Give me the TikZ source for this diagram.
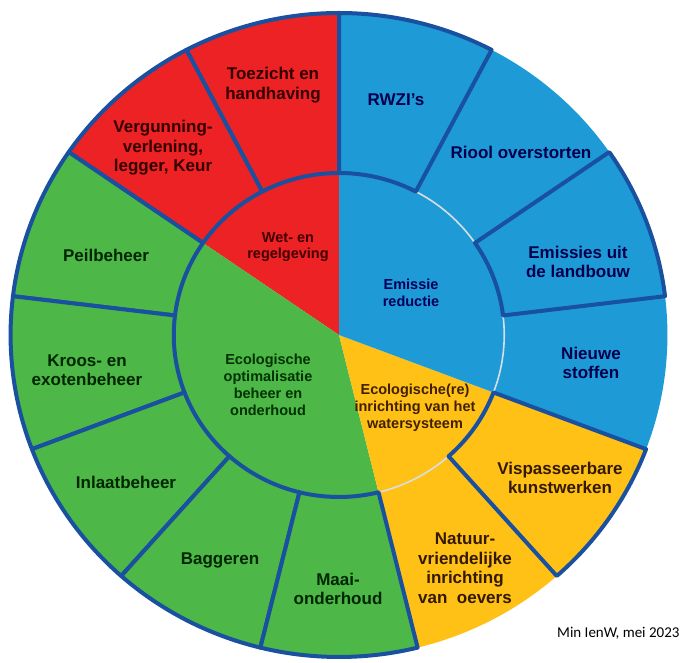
\documentclass[tikz,border=0pt]{standalone}
\usepackage{fontspec}
\setmainfont{Liberation Sans}
\newfontfamily\notefont{Carlito}
\usetikzlibrary{positioning}

\definecolor{wetred}{RGB}{237,34,36}
\definecolor{emisblue}{RGB}{30,155,215}
\definecolor{ecogreen}{RGB}{77,183,72}
\definecolor{inryellow}{RGB}{255,193,22}
\definecolor{rimblue}{RGB}{25,80,160}
\definecolor{seamgrey}{RGB}{215,222,228}

\begin{document}
\begin{tikzpicture}[
    x=1pt, y=1pt,
    seg/.style={draw=rimblue, line width=4pt, line join=round},
    seam/.style={draw=seamgrey, line width=1.6pt},
    outer/.style={align=center, font=\fontsize{17}{19.5}\selectfont\bfseries},
    inner/.style={align=center, font=\fontsize{14.5}{16.8}\selectfont\bfseries},
]

% frame of the picture
\path[fill=white] (0,0) rectangle (686,659);

\begin{scope}[shift={(339,324)}, xscale=1.02]

% inner sectors
\fill[wetred] (0,0) -- (90:162) arc[start angle=90, end angle=145.38, radius=162] -- cycle;
\fill[ecogreen] (0,0) -- (145.38:162) arc[start angle=145.38, end angle=283.85, radius=162] -- cycle;
\fill[inryellow] (0,0) -- (283.85:162) arc[start angle=283.85, end angle=339.23, radius=162] -- cycle;
\fill[emisblue] (0,0) -- (339.23:162) arc[start angle=339.23, end angle=450, radius=162] -- cycle;

% outer segments without a rim
\fill[inryellow] (283.85:162) arc[start angle=283.85, end angle=311.54, radius=162] -- (311.54:322) arc[start angle=311.54, end angle=283.85, radius=322] -- cycle;
\fill[emisblue] (339.23:162) arc[start angle=339.23, end angle=366.92, radius=162] -- (366.92:322) arc[start angle=366.92, end angle=339.23, radius=322] -- cycle;
\fill[emisblue] (394.62:162) arc[start angle=394.62, end angle=422.31, radius=162] -- (422.31:322) arc[start angle=422.31, end angle=394.62, radius=322] -- cycle;
\draw[seam] (283.85:162) arc[start angle=283.85, end angle=311.54, radius=162];
\draw[seam] (339.23:162) arc[start angle=339.23, end angle=366.92, radius=162];
\draw[seam] (394.62:162) arc[start angle=394.62, end angle=422.31, radius=162];

% outer segments with a rim
\path[seg, fill=wetred] (90:162) arc[start angle=90, end angle=117.69, radius=162] -- (117.69:322) arc[start angle=117.69, end angle=90, radius=322] -- cycle;
\path[seg, fill=wetred] (117.69:162) arc[start angle=117.69, end angle=145.38, radius=162] -- (145.38:322) arc[start angle=145.38, end angle=117.69, radius=322] -- cycle;
\path[seg, fill=ecogreen] (145.38:162) arc[start angle=145.38, end angle=173.08, radius=162] -- (173.08:322) arc[start angle=173.08, end angle=145.38, radius=322] -- cycle;
\path[seg, fill=ecogreen] (173.08:162) arc[start angle=173.08, end angle=200.77, radius=162] -- (200.77:322) arc[start angle=200.77, end angle=173.08, radius=322] -- cycle;
\path[seg, fill=ecogreen] (200.77:162) arc[start angle=200.77, end angle=228.46, radius=162] -- (228.46:322) arc[start angle=228.46, end angle=200.77, radius=322] -- cycle;
\path[seg, fill=ecogreen] (228.46:162) arc[start angle=228.46, end angle=256.15, radius=162] -- (256.15:322) arc[start angle=256.15, end angle=228.46, radius=322] -- cycle;
\path[seg, fill=ecogreen] (256.15:162) arc[start angle=256.15, end angle=283.85, radius=162] -- (283.85:322) arc[start angle=283.85, end angle=256.15, radius=322] -- cycle;
\path[seg, fill=inryellow] (311.54:162) arc[start angle=311.54, end angle=339.23, radius=162] -- (339.23:322) arc[start angle=339.23, end angle=311.54, radius=322] -- cycle;
\path[seg, fill=emisblue] (366.92:162) arc[start angle=366.92, end angle=394.62, radius=162] -- (394.62:322) arc[start angle=394.62, end angle=366.92, radius=322] -- cycle;
\path[seg, fill=emisblue] (422.31:162) arc[start angle=422.31, end angle=450, radius=162] -- (450:322) arc[start angle=450, end angle=422.31, radius=322] -- cycle;

\end{scope}

% inner labels
\node[inner, text=red!25!black] (wet) at (288,412) {Wet- en\\regelgeving};
\node[inner, text=blue!35!black] (emissie) at (411,366) {Emissie\\reductie};
\node[inner, text=green!20!black] (beheer) at (268,274) {Ecologische\\optimalisatie\\beheer en\\onderhoud};
\node[inner, text=orange!25!black] (inrichting) at (415,251) {Ecologische(re)\\inrichting van het\\watersysteem};

% outer labels
\node[outer, text=red!20!black] (toezicht) at (273,574) {Toezicht en\\handhaving};
\node[outer, text=red!20!black] (vergunning) at (163,511) {Vergunning-\\verlening,\\legger, Keur};
\node[outer, text=green!15!black] (peil) at (106,404) {Peilbeheer};
\node[outer, text=green!15!black] (kroos) at (87,289) {Kroos- en\\exotenbeheer};
\node[outer, text=green!15!black] (inlaat) at (126,177) {Inlaatbeheer};
\node[outer, text=green!15!black] (baggeren) at (220,99) {Baggeren};
\node[outer, text=green!15!black] (maai) at (338,70) {Maai-\\onderhoud};
\node[outer, text=orange!20!black] (natuur) at (465,91) {Natuur-\\vriendelijke\\inrichting\\van\ \ oevers};
\node[outer, text=orange!20!black] (vis) at (560,181) {Vispasseerbare\\kunstwerken};
\node[outer, text=blue!30!black] (nieuwe) at (591,296) {Nieuwe\\stoffen};
\node[outer, text=blue!30!black] (landbouw) at (578,397) {Emissies uit\\de landbouw};
\node[outer, text=blue!30!black] (riool) at (521,507) {Riool overstorten};
\node[outer, text=blue!30!black] (rwzi) at (396,559) {RWZI's};

% source note
\node[anchor=east, font=\notefont\fontsize{15}{17}\selectfont] (bron) at (683,26) {Min IenW, mei 2023};

\end{tikzpicture}
\end{document}
